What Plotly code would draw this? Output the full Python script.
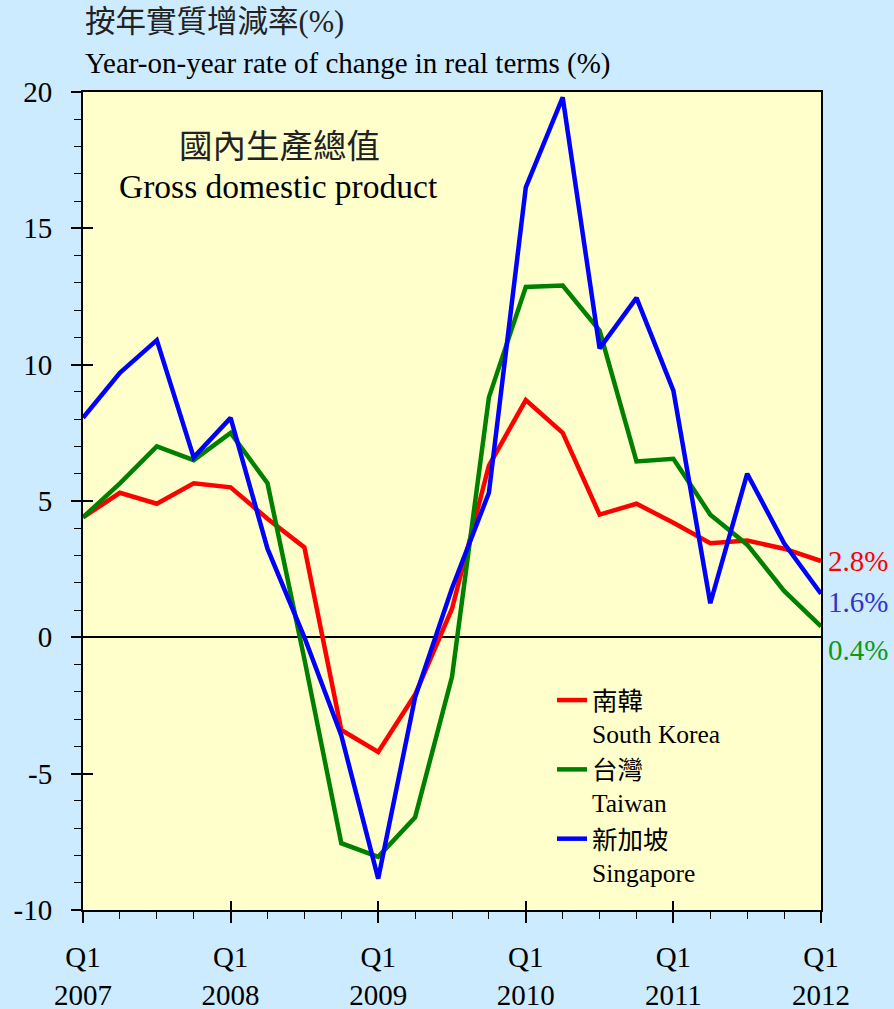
import plotly.graph_objects as go

# quarters from 2007 Q1 to 2012 Q1
quarters = [f"{y} Q{q}" for y in range(2007, 2012) for q in range(1, 5)] + ["2012 Q1"]

korea = [4.4, 5.3, 4.9, 5.65, 5.5, 4.35, 3.3, -3.4, -4.2, -2.1, 1.05, 6.3,
         8.7, 7.5, 4.5, 4.9, 4.2, 3.45, 3.55, 3.25, 2.8]
taiwan = [4.4, 5.65, 7.0, 6.5, 7.5, 5.65, -0.8, -7.55, -8.05, -6.6, -1.45, 8.8,
          12.85, 12.9, 11.25, 6.45, 6.55, 4.5, 3.4, 1.7, 0.4]
singapore = [8.05, 9.7, 10.9, 6.6, 8.05, 3.25, 0.0, -3.6, -8.85, -2.2, 1.8, 5.3,
             16.5, 19.8, 10.6, 12.45, 9.05, 1.25, 6.0, 3.45, 1.6]

series_names = ["南韓<br>South Korea", "台灣<br>Taiwan", "新加坡<br>Singapore"]
y_ticks = [-10, -5, 0, 5, 10, 15, 20]

LINE_COLORS = ["#ff0000", "#008000", "#0000ff"]
LABEL_COLORS = ["#ff0000", "#3333cc", "#119911"]
LABEL_SHIFTS = [0, -8, -24]
PAPER = "#cdebff"
PLOT_BG = "#ffffcc"
SERIF = "Liberation Serif, 'Times New Roman', 'Noto Sans CJK TC', serif"

x = list(range(len(quarters)))
major = [i for i, q in enumerate(quarters) if q.endswith("Q1")]
major_text = [f"Q1<br>{quarters[i][:4]}" for i in major]

fig = go.Figure()
for vals, name, color in zip((korea, taiwan, singapore), series_names, LINE_COLORS):
    fig.add_trace(go.Scatter(x=x, y=vals, mode="lines", name=name,
                             line=dict(color=color, width=4.5)))

# invisible trace carrying the overlay axes (inward halves of the major ticks)
fig.add_trace(go.Scatter(x=[None], y=[None], xaxis="x2", yaxis="y2",
                         showlegend=False, hoverinfo="skip"))

# end-of-line value labels
labels = [korea[-1], singapore[-1], taiwan[-1]]
for v, color, shift in zip(labels, LABEL_COLORS, LABEL_SHIFTS):
    fig.add_annotation(x=x[-1], y=v, xref="x", yref="y", text=f"{v:.1f}%",
                       showarrow=False, xanchor="left", yanchor="middle",
                       xshift=5, yshift=shift, font=dict(size=29, color=color, family=SERIF))

axis_font = dict(size=29, color="black", family=SERIF)
fig.update_layout(
    width=894, height=1009,
    margin=dict(l=83, r=73, t=92, b=99),
    paper_bgcolor=PAPER, plot_bgcolor=PLOT_BG,
    font=dict(family=SERIF, color="black"),
    showlegend=True,
    legend=dict(x=(552 - 83) / 738, y=(910 - 677) / 818, xanchor="left", yanchor="top",
                bgcolor="rgba(0,0,0,0)", font=dict(size=25.5, family=SERIF, color="black"),
                valign="top", tracegroupgap=0),
    xaxis=dict(range=[0, 20], tickvals=major, ticktext=major_text, tickfont=axis_font,
               ticks="outside", ticklen=11, tickwidth=1.5, tickcolor="black",
               minor=dict(dtick=1, ticks="outside", ticklen=7, tickwidth=1.2, tickcolor="black"),
               showline=True, linecolor="black", linewidth=2, mirror=True, automargin=False,
               showgrid=False, zeroline=False, ticklabelstandoff=9, fixedrange=True),
    yaxis=dict(range=[-10, 20], tickvals=y_ticks, ticktext=[str(v) for v in y_ticks],
               tickfont=axis_font,
               ticks="outside", ticklen=10, tickwidth=1.5, tickcolor="black",
               minor=dict(dtick=1, ticks="outside", ticklen=7, tickwidth=1.2, tickcolor="black"),
               showline=True, linecolor="black", linewidth=2, mirror=True, automargin=False,
               showgrid=False, zeroline=True, zerolinecolor="black", zerolinewidth=2,
               ticklabelstandoff=13, fixedrange=True),
    xaxis2=dict(overlaying="x", range=[0, 20], tickvals=major, ticks="inside", ticklen=9,
                tickwidth=1.5, tickcolor="black", showticklabels=False, showgrid=False,
                zeroline=False, showline=False, side="bottom", automargin=False),
    yaxis2=dict(overlaying="y", range=[-10, 20], tickvals=y_ticks, ticks="inside", ticklen=10,
                tickwidth=1.5, tickcolor="black", showticklabels=False, showgrid=False,
                zeroline=False, showline=False, side="left", automargin=False),
)

# titles
fig.add_annotation(xref="paper", yref="paper", x=0, y=1 + 70 / 818, xanchor="left",
                   yanchor="middle", showarrow=False, text="按年實質增減率(%)",
                   font=dict(size=30.5, family=SERIF, color="#222222"))
fig.add_annotation(xref="paper", yref="paper", x=0, y=1 + 28 / 818, xanchor="left",
                   yanchor="middle", showarrow=False,
                   text="Year-on-year rate of change in real terms (%)",
                   font=dict(size=29, family=SERIF, color="black"))
fig.add_annotation(xref="paper", yref="paper", x=(279 - 83) / 738, y=(910 - 147) / 818,
                   xanchor="center", yanchor="middle", showarrow=False, text="國內生產總值",
                   font=dict(size=33.5, family=SERIF, color="#222222"))
fig.add_annotation(xref="paper", yref="paper", x=(278 - 83) / 738, y=(910 - 187) / 818,
                   xanchor="center", yanchor="middle", showarrow=False,
                   text="Gross domestic product",
                   font=dict(size=33.5, family=SERIF, color="black"))

fig.write_html("out.html", config={"displayModeBar": False},
               post_script="document.body.style.margin='0';")
